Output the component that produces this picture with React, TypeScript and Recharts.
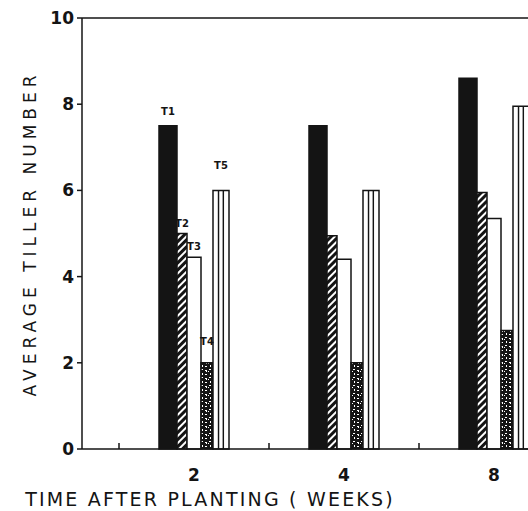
import React from "react";
import {
  BarChart,
  Bar,
  XAxis,
  YAxis,
  ReferenceLine,
  LabelList,
  Label,
} from "recharts";

// weeks after planting
const categories = ["2", "4", "8"];
// average tiller number per treatment
const t1 = [7.5, 7.5, 8.6];
const t2 = [5.0, 4.95, 5.95];
const t3 = [4.45, 4.4, 5.35];
const t4 = [2.0, 2.0, 2.75];
const t5 = [6.0, 6.0, 7.95];
const seriesNames = ["T1", "T2", "T3", "T4", "T5"];
const yTicks = [0, 2, 4, 6, 8, 10];

const data = categories.map((week, i) => ({
  week,
  T1: t1[i],
  T2: t2[i],
  T3: t3[i],
  T4: t4[i],
  T5: t5[i],
}));

const INK = "#141414";
const FONT = "'DejaVu Sans', sans-serif";

// how far above the bar top each series label sits (first group only)
const labelLift: { [k: string]: number } = { T1: 15, T2: 11, T3: 11, T4: 22, T5: 25 };

const barStyle = [
  { fill: INK, size: 18 },
  { fill: "url(#hatch)", size: 10 },
  { fill: "#fff", size: 14 },
  { fill: "url(#stipple)", size: 12 },
  { fill: "url(#vlines)", size: 16 },
];

const firstGroupLabel = (name: string) => (props: any) => {
  const { x, y, width, index } = props;
  if (index !== 0) return null;
  return (
    <text
      x={Number(x) + Number(width) / 2}
      y={Number(y) - labelLift[name] + 4}
      textAnchor="middle"
      fontFamily={FONT}
      fontWeight="bold"
      fontSize={10}
      fill={INK}
    >
      {name}
    </text>
  );
};

export default function App() {
  return (
    <div
      style={{
        position: "absolute",
        left: 0,
        top: 0,
        width: 528,
        height: 511,
        overflow: "hidden",
        background: "#fff",
      }}
    >
      <BarChart
        width={579}
        height={511}
        data={data}
        margin={{ top: 18, right: 10, bottom: 0, left: 0 }}
        barGap={0}
      >
        <defs>
          <pattern id="hatch" patternUnits="userSpaceOnUse" width="5" height="5" patternTransform="rotate(45)">
            <rect width="5" height="5" fill="#fff" />
            <rect width="3" height="5" fill={INK} />
          </pattern>
          <pattern id="stipple" patternUnits="userSpaceOnUse" width="8" height="8">
            <rect width="8" height="8" fill={INK} />
            <path d="M1 1h2v1h-2z M5 2h2v2h-1v-1h-1z M2 5h1v2h-1z M5 6h2v1h-2z M0 3h1v1h-1z" fill="#fff" />
          </pattern>
          <pattern id="vlines" patternUnits="objectBoundingBox" patternContentUnits="objectBoundingBox" width="1" height="1">
            <rect width="1" height="1" fill="#fff" />
            <rect x="0.3" width="0.09" height="1" fill={INK} />
            <rect x="0.6" width="0.09" height="1" fill={INK} />
          </pattern>
        </defs>
        <XAxis
          dataKey="week"
          padding={{ left: 37, right: 0 }}
          height={62}
          tickLine={false}
          axisLine={{ stroke: INK, strokeWidth: 1.5 }}
          tickMargin={14}
          tick={{ fill: INK, fontFamily: FONT, fontWeight: "bold", fontSize: 17 }}
        >
          <Label
            content={(p: any) => {
              const vb = p.viewBox;
              return (
                <text
                  x={vb.x + 128}
                  y={vb.y + 57}
                  textAnchor="middle"
                  fontFamily={FONT}
                  fontSize={19}
                  letterSpacing={2.2}
                  fill={INK}
                >
                  TIME AFTER PLANTING ( WEEKS)
                </text>
              );
            }}
          />
        </XAxis>
        <YAxis
          width={82}
          domain={[0, 10]}
          ticks={yTicks}
          interval={0}
          tickSize={5}
          tickMargin={3}
          axisLine={{ stroke: INK, strokeWidth: 1.5 }}
          tickLine={{ stroke: INK, strokeWidth: 1.5 }}
          tick={{ fill: INK, fontFamily: FONT, fontWeight: "bold", fontSize: 17 }}
        >
          <Label
            content={(p: any) => {
              const vb = p.viewBox;
              const cx = vb.x + 30;
              const cy = vb.y + vb.height / 2;
              return (
                <text
                  x={cx}
                  y={cy}
                  transform={`rotate(-90 ${cx} ${cy})`}
                  textAnchor="middle"
                  dominantBaseline="central"
                  fontFamily={FONT}
                  fontSize={17}
                  letterSpacing={5}
                  fill={INK}
                >
                  AVERAGE TILLER NUMBER
                </text>
              );
            }}
          />
        </YAxis>
        <ReferenceLine y={10} stroke={INK} strokeWidth={1.5} />
        {categories.map((c) => (
          <ReferenceLine
            key={c}
            position="start"
            segment={[
              { x: c, y: 0 },
              { x: c, y: 0.14 },
            ]}
            stroke={INK}
            strokeWidth={1.5}
          />
        ))}
        {seriesNames.map((name, i) => (
          <Bar
            key={name}
            dataKey={name}
            barSize={barStyle[i].size}
            fill={barStyle[i].fill}
            stroke={INK}
            strokeWidth={1.5}
            isAnimationActive={false}
          >
            <LabelList dataKey={name} content={firstGroupLabel(name)} />
          </Bar>
        ))}
      </BarChart>
    </div>
  );
}
